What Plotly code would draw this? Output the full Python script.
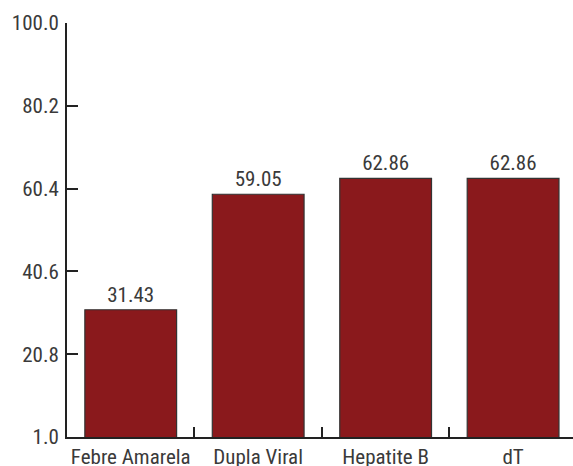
import plotly.graph_objects as go

categories = ["Febre Amarela", "Dupla Viral", "Hepatite B", "dT"]
values = [31.43, 59.05, 62.86, 62.86]
value_labels = ["31.43", "59.05", "62.86", "62.86"]
y_tickvals = [1.0, 20.8, 40.6, 60.4, 80.2, 100.0]
y_ticktext = ["1.0", "20.8", "40.6", "60.4", "80.2", "100.0"]

FONT = "Liberation Sans Narrow, Roboto Condensed, DejaVu Sans Condensed, Arial Narrow, sans-serif"
TXT = "#3a3a3a"

fig = go.Figure(go.Bar(
    x=categories,
    y=values,
    base=0,
    width=0.72,
    marker=dict(color="#8A191C", line=dict(color="#333333", width=1.2)),
    text=value_labels,
    textposition="outside",
    textfont=dict(family=FONT, size=21, color=TXT),
    cliponaxis=False,
))

fig.update_layout(
    width=573, height=466,
    margin=dict(l=67, r=0, t=23, b=29),
    paper_bgcolor="white", plot_bgcolor="white",
    showlegend=False,
    font=dict(family=FONT, size=21, color=TXT),
    xaxis=dict(
        type="category",
        range=[-0.5, 3.47],
        showline=True, linecolor="#222222", linewidth=2,
        ticks="inside", ticklen=10, tickwidth=2, tickcolor="#222222",
        tickson="boundaries",
        tickangle=0,
        automargin=False,
        showgrid=False, zeroline=False,
        tickfont=dict(family=FONT, size=21, color=TXT),
        ticklabelstandoff=0,
    ),
    yaxis=dict(
        range=[1, 100],
        tickvals=y_tickvals, ticktext=y_ticktext,
        showline=True, linecolor="#222222", linewidth=2,
        ticks="inside", ticklen=11, tickwidth=2, tickcolor="#222222",
        showgrid=False, zeroline=False,
        automargin=False,
        tickfont=dict(family=FONT, size=21, color=TXT),
        ticklabelstandoff=2,
    ),
)

fig.write_html("out.html")
